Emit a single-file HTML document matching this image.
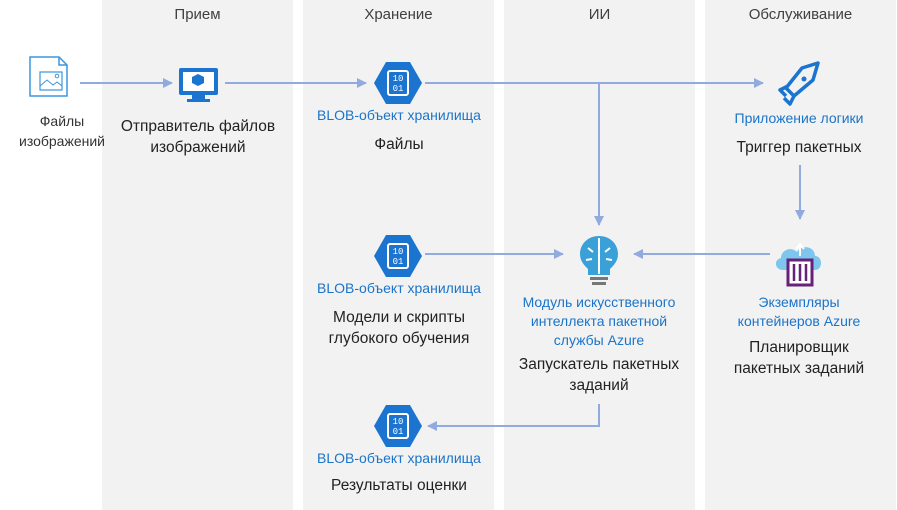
<!DOCTYPE html><html><head><meta charset="utf-8"><style>
body{margin:0;width:897px;height:510px;background:#fff;position:relative;overflow:hidden;font-family:"Segoe UI","Liberation Sans","Noto Sans CJK SC",sans-serif}
.col{position:absolute;top:0;height:510px;width:191px;background:#f2f2f2}
.h{position:absolute;top:6px;width:191px;text-align:center;font-size:15px;color:#404040}
.t{position:absolute;text-align:center;font-size:15.5px;color:#222;line-height:21px;transform:translateX(-50%);white-space:nowrap}
.b{position:absolute;text-align:center;font-size:14px;color:#1b74c9;line-height:19px;transform:translateX(-50%);white-space:nowrap}
svg{position:absolute;left:0;top:0}
</style></head><body>
<div class="col" style="left:102px"></div><div class="col" style="left:303px"></div><div class="col" style="left:504px"></div><div class="col" style="left:705px"></div>
<div class="h" style="left:102px">Прием</div><div class="h" style="left:303px">Хранение</div><div class="h" style="left:504px">ИИ</div><div class="h" style="left:705px">Обслуживание</div>
<svg width="897" height="510">
<defs><marker id="a" markerWidth="10" markerHeight="10" refX="9" refY="5" orient="auto" markerUnits="userSpaceOnUse"><path d="M0,0 L10,5 L0,10 Z" fill="#92abde"/></marker>
<g id="hex"><polygon points="-12,-21 12,-21 24,0 12,21 -12,21 -24,0" fill="#1a74d0"/><rect x="-10" y="-12" width="20" height="24" rx="2" fill="none" stroke="#fff" stroke-width="2"/><text x="0" y="-2" font-size="9" fill="#fff" text-anchor="middle" font-family="Liberation Mono">10</text><text x="0" y="8" font-size="9" fill="#fff" text-anchor="middle" font-family="Liberation Mono">01</text></g></defs>
<g stroke="#92abde" stroke-width="2" fill="none">
<path d="M80,83H172" marker-end="url(#a)"/><path d="M225,83H366" marker-end="url(#a)"/>
<path d="M425,83H763" marker-end="url(#a)"/><path d="M599,83V225" marker-end="url(#a)"/>
<path d="M800,165V219" marker-end="url(#a)"/><path d="M770,254H634" marker-end="url(#a)"/>
<path d="M425,254H563" marker-end="url(#a)"/><path d="M599,404V426H428" marker-end="url(#a)"/>
</g>
<path d="M30,57H59L67,65V96H30Z" fill="#fff" stroke="#3a96dd" stroke-width="1.5"/><path d="M59,57V65H67" fill="none" stroke="#3a96dd" stroke-width="1.5"/>
<rect x="40" y="72" width="22" height="18" fill="none" stroke="#3a96dd" stroke-width="1.2"/><path d="M40,86L47,80L53,85L57,82L62,86" fill="none" stroke="#3a96dd"/><circle cx="57" cy="76" r="1.8" fill="none" stroke="#3a96dd"/>
<rect x="179" y="68" width="39" height="27" rx="2" fill="#1a74d0"/><rect x="183" y="72" width="31" height="19" fill="#fff"/><path d="M192,95h13v4h5v3h-23v-3h5z" fill="#1a74d0"/><path d="M198,74l6,3v6l-6,3l-6-3v-6z" fill="#1a74d0"/>
<use href="#hex" x="398" y="83"/><use href="#hex" x="398" y="256"/><use href="#hex" x="398" y="426"/>
<g fill="none" stroke="#1a74d0" stroke-width="3.5" stroke-linejoin="round"><path d="M818,63L802,68L786,88L794,96L813,80Z"/><path d="M788,86L780,90L786,96M794,96L790,104L784,98"/></g><circle cx="804" cy="79" r="2.5" fill="#1a74d0"/>
<path d="M599,236c-11,0-19,8-19,18c0,7,4,11,8,15v6h22v-6c4-4,8-8,8-15c0-10-8-18-19-18z" fill="#3aa0d8"/><path d="M599,238v36M588,248l5,4M610,248l-5,4M586,260l6-1M612,260l-6-1" stroke="#fff" stroke-width="2"/>
<rect x="590" y="277" width="18" height="3" fill="#777"/><rect x="592" y="282" width="14" height="3" fill="#777"/>
<path d="M783,270c-8,0-10-10-2-12c0-8,10-12,16-6c4-8,18-6,18,4c8,0,8,14,0,14z" fill="#7ec6ee"/>
<path d="M800,244v12M796,249l4-5l4,5" stroke="#fff" stroke-width="2" fill="none"/>
<rect x="788" y="260" width="24" height="25" fill="#fff" stroke="#68217a" stroke-width="3"/><path d="M794,264v17M800,264v17M806,264v17" stroke="#68217a" stroke-width="2.5"/>
</svg>
<div class="t" style="left:62px;top:111px;font-size:14px;line-height:20px;color:#333">Файлы<br>изображений</div>
<div class="t" style="left:198px;top:116px">Отправитель файлов<br>изображений</div>
<div class="b" style="left:399px;top:106px">BLOB-объект хранилища</div><div class="t" style="left:399px;top:134px">Файлы</div>
<div class="b" style="left:399px;top:279px">BLOB-объект хранилища</div><div class="t" style="left:399px;top:307px">Модели и скрипты<br>глубокого обучения</div>
<div class="b" style="left:399px;top:449px">BLOB-объект хранилища</div><div class="t" style="left:399px;top:475px">Результаты оценки</div>
<div class="b" style="left:599px;top:293px">Модуль искусственного<br>интеллекта пакетной<br>службы Azure</div><div class="t" style="left:599px;top:354px">Запускатель пакетных<br>заданий</div>
<div class="b" style="left:799px;top:109px">Приложение логики</div><div class="t" style="left:799px;top:137px">Триггер пакетных</div>
<div class="b" style="left:799px;top:293px">Экземпляры<br>контейнеров Azure</div><div class="t" style="left:799px;top:337px">Планировщик<br>пакетных заданий</div>
</body></html>
